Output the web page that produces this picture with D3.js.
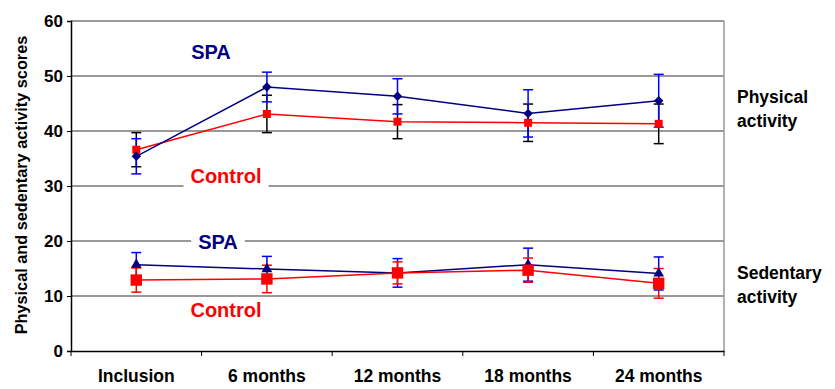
<meta charset="utf-8">
<style>body { margin: 0; }</style>
<svg width="835" height="389"></svg>
<script src="https://d3js.org/d3.v7.min.js"></script>
<script>
var times = ["Inclusion", "6 months", "12 months", "18 months", "24 months"];
var yTicks = [0, 10, 20, 30, 40, 50, 60];

// physical activity
var physSpa = [35.4, 48.0, 46.3, 43.2, 45.5];
var physSpaSd = [3.2, 2.7, 3.2, 4.3, 4.8];
var physCtl = [36.6, 43.1, 41.7, 41.5, 41.3];
var physCtlSd = [3.1, 3.4, 3.1, 3.4, 3.6];

// sedentary activity
var sedSpa = [15.7, 14.9, 14.2, 15.7, 14.1];
var sedSpaSd = [2.2, 2.3, 2.6, 3.0, 3.0];
var sedCtl = [12.9, 13.1, 14.2, 14.7, 12.3];
var sedCtlSd = [2.2, 2.5, 2.0, 2.2, 2.7];

var svg = d3.select("svg"),
  margin = {top: 21, right: 111, bottom: 38, left: 71},
  width = +svg.attr("width"),
  height = +svg.attr("height");

var x = d3.scaleBand()
  .domain(times)
  .range([margin.left, width - margin.right]);

var y = d3.scaleLinear()
  .domain([0, 60])
  .range([height - margin.bottom, margin.top]);

var navy = "#000080", red = "#ff0000", blue = "#0000ff";
var bold = "bold";
var font = "Liberation Sans, Arial, sans-serif";

// gridlines
svg.append("g")
  .selectAll("line")
  .data(yTicks.filter(function(d) { return d > 0; }))
  .enter().append("line")
    .attr("x1", margin.left)
    .attr("x2", width - margin.right)
    .attr("y1", function(d) { return y(d); })
    .attr("y2", function(d) { return y(d); })
    .attr("stroke", "#333")
    .attr("stroke-width", 1);

// right border
svg.append("line")
  .attr("x1", width - margin.right).attr("x2", width - margin.right)
  .attr("y1", y(60)).attr("y2", y(0))
  .attr("stroke", "#999").attr("stroke-width", 1.5);

// axes
var xAxis = svg.append("g")
  .attr("transform", "translate(0," + y(0) + ")")
  .call(d3.axisBottom(x).tickSize(0).tickPadding(19));
xAxis.select(".domain").attr("stroke", "#000").attr("stroke-width", 1.5);
xAxis.selectAll("text")
  .attr("font-family", font).attr("font-weight", bold).attr("font-size", "17.5px").attr("fill", "#000");

// x tick marks between categories
svg.append("g")
  .selectAll("line")
  .data(times.concat(["end"]))
  .enter().append("line")
    .attr("x1", function(d, i) { return i < times.length ? x(d) : x(times[times.length - 1]) + x.bandwidth(); })
    .attr("x2", function(d, i) { return i < times.length ? x(d) : x(times[times.length - 1]) + x.bandwidth(); })
    .attr("y1", y(0))
    .attr("y2", y(0) + 5)
    .attr("stroke", "#000");

var yAxis = svg.append("g")
  .attr("transform", "translate(" + margin.left + ",0)")
  .call(d3.axisLeft(y).tickValues(yTicks).tickSize(4).tickPadding(4));
yAxis.select(".domain").attr("stroke", "#000").attr("stroke-width", 1.5);
yAxis.selectAll("text")
  .attr("font-family", font).attr("font-weight", bold).attr("font-size", "17px").attr("fill", "#000");

svg.append("text")
  .attr("transform", "translate(21," + ((y(0) + y(60)) / 2 - 1) + ") rotate(-90)")
  .attr("text-anchor", "middle")
  .attr("dominant-baseline", "central")
  .attr("font-family", font).attr("font-weight", bold).attr("font-size", "16.3px")
  .text("Physical and sedentary activity scores");

function cx(i) { return x(times[i]) + x.bandwidth() / 2; }

function errorBars(vals, sds, color) {
  var g = svg.append("g").attr("stroke", color).attr("stroke-width", 1.5);
  vals.forEach(function(v, i) {
    var c = cx(i);
    g.append("line").attr("x1", c).attr("x2", c).attr("y1", y(v - sds[i])).attr("y2", y(v + sds[i]));
    g.append("line").attr("x1", c - 5).attr("x2", c + 5).attr("y1", y(v - sds[i])).attr("y2", y(v - sds[i]));
    g.append("line").attr("x1", c - 5).attr("x2", c + 5).attr("y1", y(v + sds[i])).attr("y2", y(v + sds[i]));
  });
}

function series(vals, color, symbol, size) {
  var line = d3.line()
    .x(function(d, i) { return cx(i); })
    .y(function(d) { return y(d); });
  svg.append("path")
    .datum(vals)
    .attr("fill", "none")
    .attr("stroke", color)
    .attr("stroke-width", 1.5)
    .attr("d", line);
  svg.append("g")
    .selectAll("path")
    .data(vals)
    .enter().append("path")
      .attr("transform", function(d, i) { return "translate(" + cx(i) + "," + y(d) + ")"; })
      .attr("d", d3.symbol().type(symbol).size(size))
      .attr("fill", color);
}

var diamond = {
  draw: function(ctx, size) {
    var r = Math.sqrt(size) / 2;
    ctx.moveTo(0, -r); ctx.lineTo(r, 0); ctx.lineTo(0, r); ctx.lineTo(-r, 0); ctx.closePath();
  }
};

// physical
errorBars(physCtl, physCtlSd, "#000");
errorBars(physSpa, physSpaSd, blue);
series(physCtl, red, d3.symbolSquare, 64);
series(physSpa, navy, diamond, 90);

// sedentary
errorBars(sedSpa, sedSpaSd, blue);
errorBars(sedCtl, sedCtlSd, red);
series(sedSpa, navy, d3.symbolTriangle, 50);
series(sedCtl, red, d3.symbolSquare, 130);

// in-plot labels
function label(txt, xPos, yVal, color, bg) {
  var t = svg.append("text")
    .attr("x", xPos).attr("y", y(yVal))
    .attr("text-anchor", "middle")
    .attr("dominant-baseline", "central")
    .attr("font-family", font).attr("font-weight", bold).attr("font-size", "20px")
    .attr("fill", color)
    .text(txt);
  if (bg) {
    var b = t.node().getBBox();
    svg.insert("rect", function() { return t.node(); })
      .attr("x", b.x - 7).attr("y", b.y).attr("width", b.width + 14).attr("height", b.height)
      .attr("fill", "#fff");
  }
}
label("SPA", 211, 54.4, navy, false);
label("Control", 226, 31.8, red, true);
label("SPA", 218, 19.8, navy, true);
label("Control", 226, 7.4, red, false);

// right labels
var right = [["Physical", 103], ["activity", 127], ["Sedentary", 279], ["activity", 303]];
svg.append("g")
  .selectAll("text")
  .data(right)
  .enter().append("text")
    .attr("x", 737)
    .attr("y", function(d) { return d[1]; })
    .attr("font-family", font).attr("font-weight", bold).attr("font-size", "17.5px")
    .text(function(d) { return d[0]; });
</script>
